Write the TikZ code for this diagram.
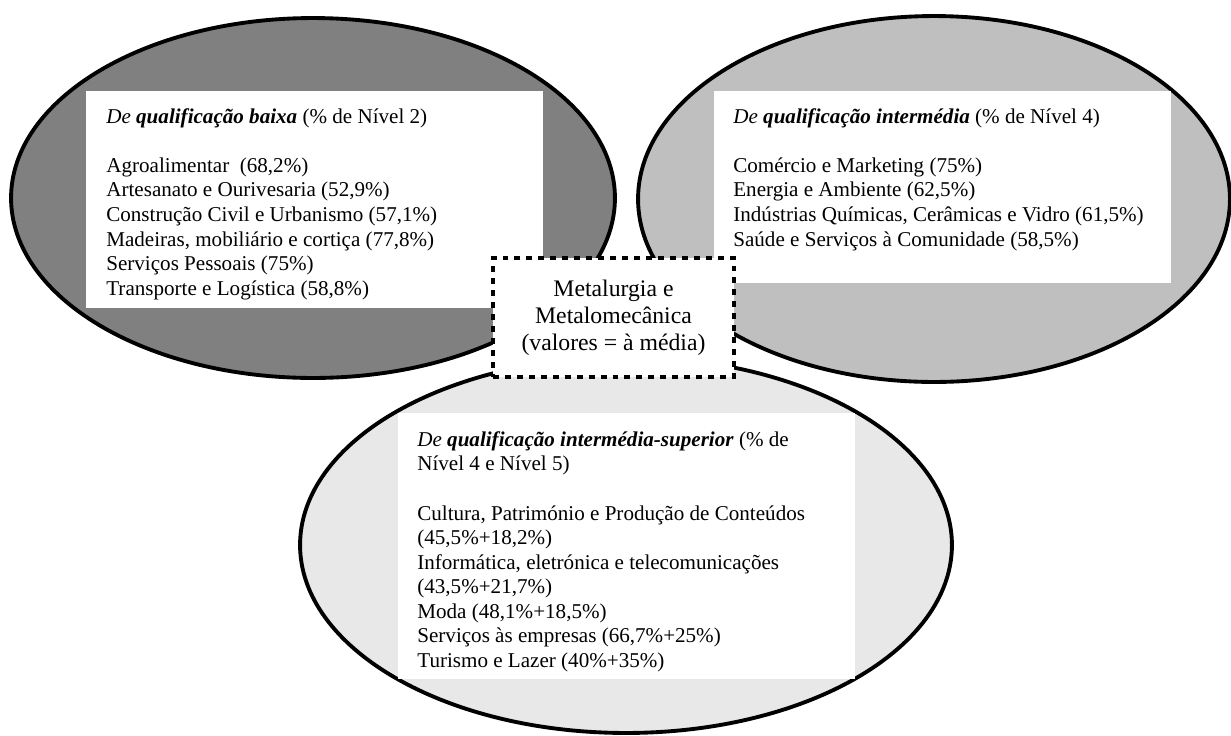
\documentclass[tikz,border=0pt]{standalone}
\usepackage{fontspec}
\setmainfont{Liberation Serif}
\usetikzlibrary{shapes.geometric,positioning}

\begin{document}
\begin{tikzpicture}[x=0.02cm, y=-0.02cm,
  bubble/.style={shape=ellipse, draw=black, line width=2.2pt, inner sep=0pt},
  whitebox/.style={shape=rectangle, fill=white, inner sep=0pt, anchor=north west, minimum width=9.14cm},
  boxtext/.style={anchor=north west, inner sep=0pt, align=left, font=\fontsize{12pt}{14pt}\selectfont},
  metalbox/.style={shape=rectangle, draw=black, fill=white, line width=2.8pt, dash pattern=on 3.4pt off 3.4pt, align=center, font=\fontsize{13.5pt}{15.3pt}\selectfont}]
\useasboundingbox (0,0) rectangle (1231,735);
\node[bubble, fill=black!50, minimum width=12.08cm, minimum height=7.2cm] (baixa) at (313,198) {};
\node[bubble, fill=black!25, minimum width=11.84cm, minimum height=7.32cm] (intermedia) at (934,199) {};
\node[bubble, fill=black!9, minimum width=13.04cm, minimum height=7.52cm] (superior) at (626,545) {};
\node[whitebox, minimum height=4.34cm] (baixabox) at (86,91) {};
\node[whitebox, minimum height=3.84cm] (intermediabox) at (714,91) {};
\node[whitebox, minimum height=5.32cm] (superiorbox) at (398,413) {};
\node[boxtext] (baixatext) at (106,108) {\textit{De \textbf{qualificação baixa}} (\% de Nível 2)\\[14pt]
  Agroalimentar\ \ (68,2\%)\\
  Artesanato e Ourivesaria (52,9\%)\\
  Construção Civil e Urbanismo (57,1\%)\\
  Madeiras, mobiliário e cortiça (77,8\%)\\
  Serviços Pessoais (75\%)\\
  Transporte e Logística (58,8\%)};
\node[boxtext] (intermediatext) at (733,108) {\textit{De \textbf{qualificação intermédia}} (\% de Nível 4)\\[14pt]
  Comércio e Marketing (75\%)\\
  Energia e Ambiente (62,5\%)\\
  Indústrias Químicas, Cerâmicas e Vidro (61,5\%)\\
  Saúde e Serviços à Comunidade (58,5\%)};
\node[boxtext] (superiortext) at (417,431) {\textit{De \textbf{qualificação intermédia-superior}} (\% de\\
  Nível 4 e Nível 5)\\[14pt]
  Cultura, Património e Produção de Conteúdos\\
  (45,5\%+18,2\%)\\
  Informática, eletrónica e telecomunicações\\
  (43,5\%+21,7\%)\\
  Moda (48,1\%+18,5\%)\\
  Serviços às empresas (66,7\%+25\%)\\
  Turismo e Lazer (40\%+35\%)};
\node[metalbox, minimum width=4.82cm, minimum height=2.38cm] (metal) at (613.5,317.5) {Metalurgia e\\ Metalomecânica\\ (valores = à média)};
\end{tikzpicture}
\end{document}
